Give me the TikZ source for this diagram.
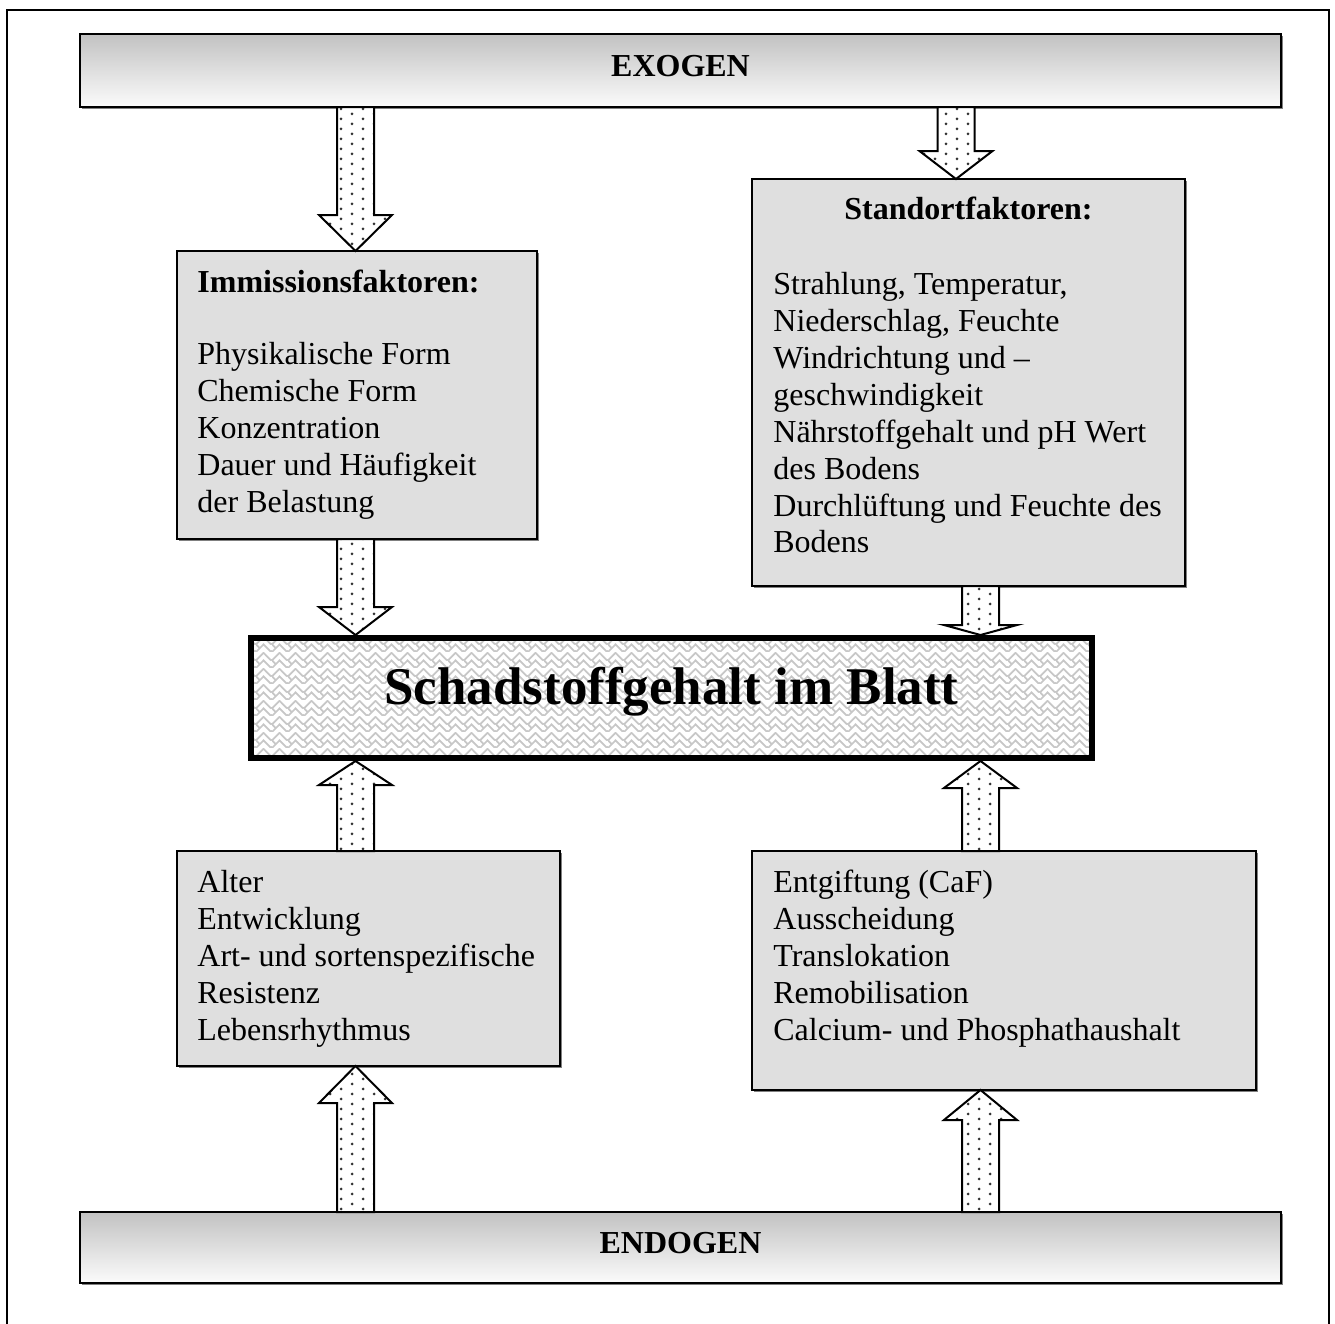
\documentclass[tikz,border=0pt]{standalone}
\usepackage{fontspec}
\setmainfont{Liberation Serif}
\usetikzlibrary{
  calc,
  shadows,
  patterns.meta
}
\definecolor{boxGray}{gray}{0.875}
\definecolor{barGray}{gray}{0.76}
\definecolor{barWhite}{gray}{0.985}
\definecolor{weaveGray}{gray}{0.78}

\pgfdeclarepattern{
  name=arrowdots,
  bottom left={\pgfpoint{-1pt}{-1pt}},
  top right={\pgfpoint{10pt}{4pt}},
  tile size={\pgfpoint{11pt}{5pt}},
  code={
    \pgfpathcircle{\pgfpointorigin}{0.75pt}
    \pgfpathcircle{\pgfpoint{5.5pt}{2.5pt}}{0.75pt}
    \pgfusepath{fill}
  }
}
\pgfdeclarepattern{
  name=weave,
  type=colored,
  bottom left={\pgfpoint{0pt}{0pt}},
  top right={\pgfpoint{8pt}{8pt}},
  tile size={\pgfpoint{8pt}{8pt}},
  code={
    \pgfsetstrokecolor{weaveGray}
    \pgfsetlinewidth{0.9pt}
    \pgfpathmoveto{\pgfpoint{0pt}{0pt}}
    \pgfpathlineto{\pgfpoint{4pt}{4pt}}
    \pgfpathlineto{\pgfpoint{8pt}{0pt}}
    \pgfpathmoveto{\pgfpoint{0pt}{4pt}}
    \pgfpathlineto{\pgfpoint{4pt}{8pt}}
    \pgfpathlineto{\pgfpoint{8pt}{4pt}}
    \pgfpathmoveto{\pgfpoint{2pt}{2pt}}
    \pgfpathlineto{\pgfpoint{0pt}{4pt}}
    \pgfpathmoveto{\pgfpoint{6pt}{6pt}}
    \pgfpathlineto{\pgfpoint{8pt}{4pt}}
    \pgfusepath{stroke}
  }
}

% block arrow: from, to, column, signed head length
\newcommand{\fatarrow}[4]{%
  \draw[fatarrow] let \p1=(#1), \p2=(#2), \p3=(#3) in
    (\x3-9.25pt,\y1) -- (\x3-9.25pt,{\y2+(#4)}) -- (\x3-18.25pt,{\y2+(#4)})
    -- (\x3,\y2) -- (\x3+18.25pt,{\y2+(#4)}) -- (\x3+9.25pt,{\y2+(#4)})
    -- (\x3+9.25pt,\y1) -- cycle;}

\begin{document}
\begin{tikzpicture}[
    x=0.5pt, y=-0.5pt,
    bar/.style={
      draw, line width=1pt, inner sep=0pt, outer sep=0pt, anchor=north west,
      top color=barGray, bottom color=barWhite,
      drop shadow={shadow xshift=0.8pt, shadow yshift=-0.8pt, fill=gray, opacity=1},
      font=\fontsize{16}{18.45}\selectfont\bfseries,
      text height=10.6pt, text depth=4.2pt
    },
    factbox/.style={
      draw, line width=1pt, fill=boxGray, inner sep=0pt, outer sep=0pt,
      anchor=north west,
      drop shadow={shadow xshift=0.8pt, shadow yshift=-0.8pt, fill=gray, opacity=1}
    },
    boxtext/.style={
      font=\fontsize{16}{18.45}\selectfont, align=left,
      inner sep=0pt, anchor=north west
    },
    headtext/.style={
      font=\fontsize{16}{18.45}\selectfont\bfseries,
      inner sep=0pt, anchor=base
    },
    fatarrow/.style={
      draw, line width=1pt, line join=miter,
      preaction={fill=white}, pattern=arrowdots, pattern color=black!80
    }
  ]
  \useasboundingbox (0,0) rectangle (1335,1324);
  \draw[line width=0.75pt] (7,10) rectangle (1329,1340);

  \node[bar, minimum width=600.5pt, minimum height=36.5pt] (exo) at (80,34) {EXOGEN};
  \node[bar, minimum width=600.5pt, minimum height=35.5pt] (endo) at (80,1212) {ENDOGEN};

  \node[factbox, minimum width=180pt, minimum height=144pt] (imm) at (177,251) {};
  \node[factbox, minimum width=216.5pt, minimum height=203.5pt] (stand) at (752,179) {};
  \node[factbox, minimum width=191.5pt, minimum height=107.5pt] (alter) at (177,851) {};
  \node[factbox, minimum width=252pt, minimum height=119.5pt] (entg) at (752,851) {};

  \node[boxtext] (immText) at (197,270) {\textbf{Immissionsfaktoren:}\\[17.55pt]
    Physikalische Form\\Chemische Form\\Konzentration\\Dauer und Häufigkeit\\der Belastung};
  \node[headtext] (standHead) at (968.5,219) {Standortfaktoren:};
  \node[boxtext] (standText) at (773,272) {Strahlung, Temperatur,\\Niederschlag, Feuchte\\
    Windrichtung und –\\geschwindigkeit\\Nährstoffgehalt und pH Wert\\des Bodens\\
    Durchlüftung und Feuchte des\\Bodens};
  \node[boxtext] (alterText) at (197,870) {Alter\\Entwicklung\\Art- und sortenspezifische\\
    Resistenz\\Lebensrhythmus};
  \node[boxtext] (entgText) at (773,870) {Entgiftung (CaF)\\Ausscheidung\\Translokation\\
    Remobilisation\\Calcium- und Phosphathaushalt};

  \node[draw, line width=3pt, inner sep=0pt, outer sep=1.5pt, anchor=north west,
    preaction={fill=white}, pattern=weave,
    minimum width=420.5pt, minimum height=60pt,
    font=\fontsize{26.5}{30}\selectfont\bfseries, text height=12pt, text depth=6pt]
    (blatt) at (248,635) {Schadstoffgehalt im Blatt};

  \coordinate (colA) at (355.5,0);
  \coordinate (colB) at (956,0);
  \coordinate (colC) at (980.5,0);

  \foreach \from/\to/\col/\head in {
      exo.south/imm.north/colA/18pt,
      exo.south/stand.north/colB/14pt,
      imm.south/blatt.north/colA/14pt,
      stand.south/blatt.north/colC/5pt,
      alter.north/blatt.south/colA/-12pt,
      entg.north/blatt.south/colC/-13.5pt,
      endo.north/alter.south/colA/-18.5pt,
      endo.north/entg.south/colC/-15pt}{
    \fatarrow{\from}{\to}{\col}{\head}
  }
\end{tikzpicture}
\end{document}
